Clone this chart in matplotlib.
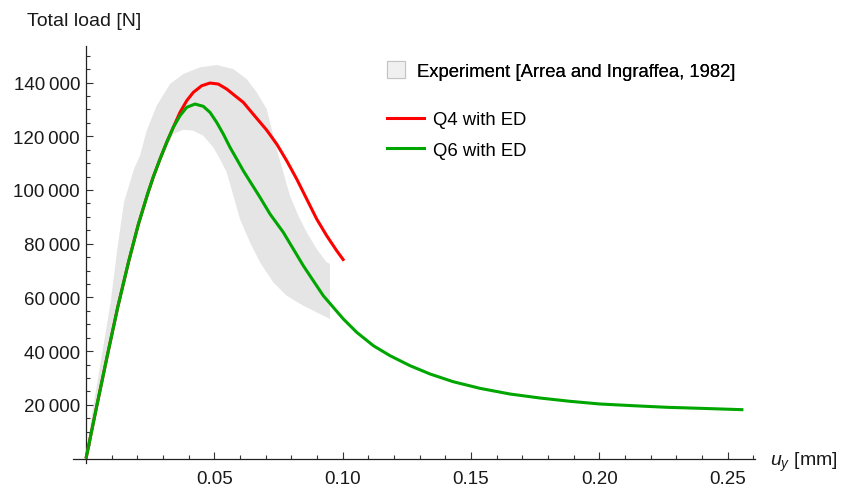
import numpy as np
import matplotlib.pyplot as plt
from matplotlib.ticker import FixedLocator, FuncFormatter
from matplotlib.patches import Patch
from matplotlib.lines import Line2D

plt.rcParams['font.family'] = ['Liberation Sans', 'DejaVu Sans']
plt.rcParams['mathtext.fontset'] = 'custom'
plt.rcParams['mathtext.rm'] = 'Liberation Sans'
plt.rcParams['mathtext.it'] = 'Liberation Sans:italic'

# Experimental envelope (upper and lower bounds), u_y [mm] vs load [N]
exp_upper_u = [0.0, 0.00183, 0.00573, 0.00962, 0.0122, 0.01481, 0.01871, 0.02104,
               0.02366, 0.02755, 0.03274, 0.03792, 0.04443, 0.05093, 0.0574,
               0.06263, 0.06652, 0.07042, 0.07432, 0.07689, 0.0795, 0.08274,
               0.08601, 0.0899, 0.0938, 0.09509]
exp_upper_F = [0, 13480, 35820, 58170, 78020, 95410, 107810, 112770,
               122080, 131380, 139460, 143190, 145680, 146540, 145050,
               141330, 136370, 130150, 115260, 106580, 97870, 90420,
               84240, 78020, 73070, 72430]
exp_lower_u = [0.0, 0.0046, 0.0085, 0.0126, 0.0168, 0.0206, 0.0243, 0.0264,
               0.0290, 0.03402, 0.03792, 0.04182, 0.04571, 0.04961, 0.05222,
               0.05483, 0.06001, 0.06391, 0.06781, 0.07299, 0.07821, 0.08469,
               0.09119, 0.09509]
exp_lower_F = [0, 20000, 37500, 55800, 72600, 86500, 98000, 104000,
               110800, 120840, 122440, 122080, 120210, 115890, 111530,
               106580, 89190, 80510, 73070, 65620, 60630, 56900,
               53810, 51950]

# Q4 element with embedded discontinuity
q4_u = [0.0, 0.0005, 0.0044, 0.0083, 0.0124, 0.0166, 0.0204, 0.0241, 0.02624,
        0.02884, 0.03145, 0.03402, 0.03663, 0.03924, 0.04182, 0.04509, 0.04832,
        0.05156, 0.05483, 0.05807, 0.0613, 0.0652, 0.07042, 0.07432, 0.07821,
        0.08211, 0.08601, 0.0899, 0.0938, 0.0977, 0.10055]
q4_F = [0, 2300, 20500, 38300, 56500, 73300, 87200, 98800, 104900,
        111530, 117750, 123340, 128920, 133240, 136370, 138830, 139840,
        139460, 137600, 135110, 132650, 128200, 122300, 117120, 110900,
        104090, 96640, 89190, 82970, 77390, 73660]

# Q6 element with embedded discontinuity
q6_u = [0.0, 0.0005, 0.0044, 0.0083, 0.0124, 0.0166, 0.0204, 0.0241, 0.02624,
        0.02884, 0.03145, 0.03402, 0.03663, 0.03924, 0.04248, 0.04571, 0.04832,
        0.05093, 0.05351, 0.05612, 0.05873, 0.0613, 0.06391, 0.06781, 0.07171,
        0.07689, 0.08079, 0.08469, 0.08858, 0.09248, 0.09637, 0.1003, 0.1055,
        0.112, 0.1185, 0.1263, 0.1341, 0.1431, 0.1535, 0.1652, 0.1769, 0.1886,
        0.2003, 0.2133, 0.2263, 0.2393, 0.2562]
q6_F = [0, 2300, 20500, 38300, 56500, 73300, 87200, 98800, 104900,
        111530, 117750, 123340, 127660, 130790, 132020, 131160, 128920,
        125200, 120840, 115890, 111530, 107180, 103200, 97270, 91050,
        84240, 78020, 71800, 66210, 60630, 56310, 51950, 47000,
        42010, 38280, 34560, 31470, 28600, 26140, 24020, 22530, 21300,
        20300, 19660, 19070, 18690, 18170]

x_major = [0.05, 0.10, 0.15, 0.20, 0.25]
y_major = [20000, 40000, 60000, 80000, 100000, 120000, 140000]

fig = plt.figure(figsize=(8.46, 4.89), dpi=100)
W, H = 846, 489
ax = fig.add_axes([73 / W, (H - 475) / H, (755 - 73) / W, (475 - 47) / H])

px_u = 2566.0
px_F = 53.7 / 20000
ax.set_xlim(-(86 - 73) / px_u, (755 - 86) / px_u)
ax.set_ylim(-(475 - 459.5) / px_F, (459.5 - 47) / px_F)

# gray envelope of the experiment
poly_u = exp_upper_u + exp_lower_u[::-1]
poly_F = exp_upper_F + exp_lower_F[::-1]
ax.fill(poly_u, poly_F, color='#e5e5e5', lw=0, zorder=1)

ax.plot(q4_u, q4_F, color='#ff0000', lw=2.2, zorder=3,
        solid_capstyle='butt', solid_joinstyle='round')
ax.plot(q6_u, q6_F, color='#00a600', lw=2.2, zorder=4,
        solid_capstyle='butt', solid_joinstyle='round')

# axes crossing at the origin
for side in ['top', 'right']:
    ax.spines[side].set_visible(False)
ax.spines['left'].set_position(('data', 0))
ax.spines['bottom'].set_position(('data', 0))
ax.spines['left'].set_bounds(-1500, ax.get_ylim()[1])
for side in ['left', 'bottom']:
    ax.spines[side].set_linewidth(0.9)
    ax.spines[side].set_color('#222222')

ax.xaxis.set_major_locator(FixedLocator(x_major))
ax.yaxis.set_major_locator(FixedLocator(y_major))
ax.xaxis.set_minor_locator(FixedLocator(np.arange(0.01, 0.2605, 0.01)))
ax.yaxis.set_minor_locator(FixedLocator(np.arange(5000, 150001, 5000)))
ax.xaxis.set_major_formatter(FuncFormatter(lambda v, p: f"{v:.2f}"))
ax.yaxis.set_major_formatter(FuncFormatter(lambda v, p: f"{int(round(v)):,}".replace(",", "\u2009")))

ax.tick_params(which='both', direction='in', color='#333333', width=0.8, labelsize=13.5, labelcolor='#1a1a1a')
ax.tick_params(which='major', length=5)
ax.tick_params(which='minor', length=3)
ax.tick_params(axis='x', which='major', pad=8.5)
ax.tick_params(axis='y', which='major', pad=4.3)

fig.text(27 / W, 1 - 22 / H, 'Total load [N]', fontsize=14, va='center', ha='left', color='#1a1a1a')
fig.text(770 / W, 1 - 462 / H, r'$u_y$ [mm]', fontsize=14, va='center', ha='left', color='#1a1a1a')

leg1 = fig.legend(handles=[Patch(facecolor='#f0f0f0', edgecolor='#c4c4c4', lw=0.8)],
                  labels=['Experiment [Arrea and Ingraffea, 1982]'],
                  loc='upper left', bbox_to_anchor=(387 / W, 1 - 62 / H),
                  frameon=False, borderpad=0, borderaxespad=0, fontsize=13.3,
                  handlelength=1.0, handleheight=1.0, handletextpad=0.6)
leg2 = fig.legend(handles=[Line2D([], [], color='#ff0000', lw=2.2),
                           Line2D([], [], color='#00a600', lw=2.2)],
                  labels=['Q4 with ED', 'Q6 with ED'],
                  loc='upper left', bbox_to_anchor=(387 / W, 1 - 112 / H),
                  frameon=False, borderpad=0, borderaxespad=0, fontsize=13.3,
                  handlelength=2.0, handletextpad=0.5, labelspacing=0.75)
fig.add_artist(leg1)

fig.savefig('out.png', dpi=100)
